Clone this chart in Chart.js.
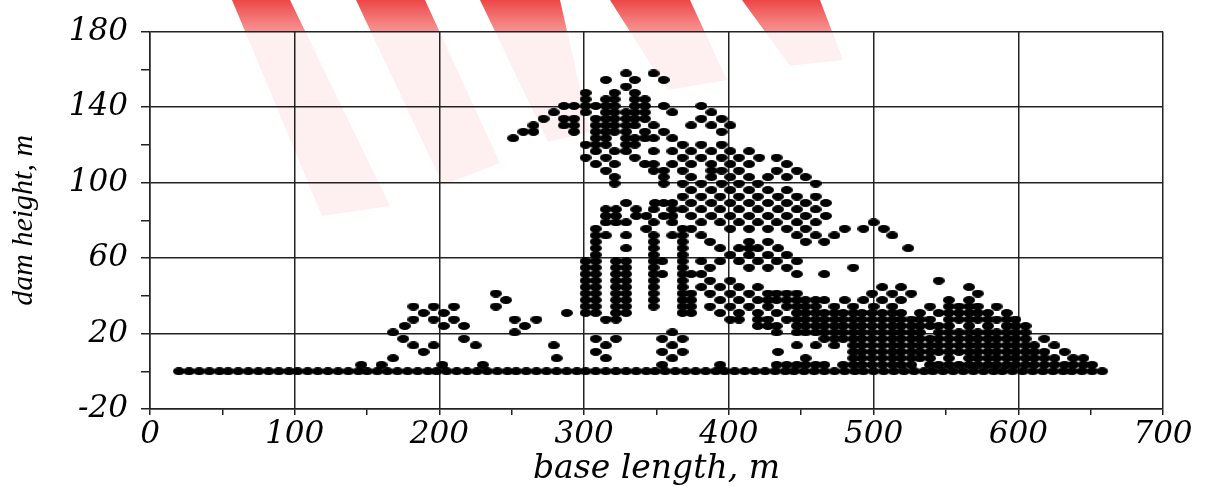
<!DOCTYPE html>
<html>
<head>
<meta charset="utf-8">
<script src="https://cdn.jsdelivr.net/npm/chart.js@4.4.0/dist/chart.umd.min.js"></script>
<style>
    body { margin: 0; background: #fff; }
    #wrap { width: 1206px; height: 486px; }
</style>
</head>
<body>
<div id="wrap"><canvas id="myChart" width="1206" height="486"></canvas></div>
<script>
// dam height levels (m), one row of base lengths per level
const heights = [0, 3.4, 6.9, 10.3, 13.7, 17.2, 20.6, 24, 27.4, 30.9, 34.3, 37.7, 41.2, 44.6, 48, 51.5,
    54.9, 58.3, 61.7, 65.2, 68.6, 72, 75.5, 78.9, 82.3, 85.8, 89.2, 92.6, 96, 99.5, 102.9, 106.3,
    109.8, 113.2, 116.6, 120.1, 123.5, 126.9, 130.3, 133.8, 137.2, 140.6, 144.1, 147.5, 150.9, 154.4, 157.8];

// base lengths (m) found at each height level above
const lengthsByRow = [
    [20, 27, 34, 41, 48, 54, 61, 68, 75, 82, 89, 96, 102, 109, 116, 123, 130, 137, 144, 150, 157, 164, 171, 178,
     185, 192, 198, 205, 212, 219, 226, 233, 240, 247, 253, 260, 267, 274, 281, 288, 295, 301, 308, 315, 322, 329,
     336, 343, 349, 356, 363, 370, 377, 384, 391, 397, 404, 411, 418, 425, 432, 439, 445, 452, 459, 466, 473, 480,
     487, 493, 500, 507, 514, 521, 528, 535, 541, 548, 555, 562, 569, 576, 583, 589, 596, 603, 610, 617, 624, 631,
     637, 644, 651, 658],
    [146, 160, 202, 230, 354, 394, 433, 440, 447, 453, 460, 466, 479, 486, 492, 499, 506, 513, 519, 526, 539, 545,
     552, 559, 566, 572, 579, 585, 592, 598, 605, 611, 618, 625, 632, 638, 645, 651],
    [168, 281, 315, 361, 453, 486, 492, 499, 506, 513, 519, 526, 532, 539, 552, 566, 572, 579, 585, 592, 598, 605,
     611, 618, 625, 638, 645],
    [189, 308, 354, 368, 434, 486, 492, 499, 506, 513, 519, 526, 532, 539, 545, 552, 559, 566, 572, 579, 585, 592,
     598, 605, 611, 618, 632],
    [182, 196, 225, 279, 315, 361, 447, 460, 473, 486, 492, 499, 506, 513, 519, 526, 532, 539, 545, 552, 559, 566,
     572, 579, 585, 592, 598, 605, 611, 625],
    [175, 217, 308, 322, 354, 368, 466, 473, 479, 486, 492, 499, 506, 513, 519, 526, 532, 539, 545, 552, 559, 566,
     572, 579, 585, 592, 598, 605, 618],
    [168, 252, 361, 433, 447, 453, 460, 466, 473, 479, 486, 492, 499, 506, 513, 519, 526, 532, 545, 552, 559, 566,
     572, 579, 585, 592, 598, 605],
    [176, 203, 217, 259, 420, 427, 433, 447, 453, 460, 466, 473, 479, 486, 492, 499, 506, 513, 519, 526, 532, 539,
     545, 552, 566, 579, 592, 598, 605],
    [182, 196, 210, 252, 267, 315, 322, 401, 407, 420, 427, 440, 447, 453, 460, 466, 473, 479, 486, 492, 499, 506,
     513, 519, 526, 532, 539, 552, 559, 566, 572, 579, 585, 592, 598],
    [189, 203, 288, 301, 308, 322, 329, 368, 374, 394, 407, 420, 433, 447, 453, 460, 466, 473, 479, 486, 492, 499,
     506, 513, 519, 532, 545, 552, 559, 566, 572, 579, 592],
    [182, 196, 210, 239, 301, 308, 322, 329, 348, 368, 374, 387, 401, 414, 427, 440, 447, 453, 460, 473, 486, 500,
     513, 539, 552, 559, 566, 572, 585],
    [246, 301, 308, 322, 329, 348, 368, 374, 394, 407, 420, 427, 433, 440, 447, 453, 460, 466, 480, 493, 506, 519,
     552, 566],
    [239, 301, 308, 322, 329, 348, 368, 374, 387, 401, 414, 427, 433, 440, 447, 499, 513, 526, 572],
    [301, 308, 322, 329, 348, 368, 381, 394, 407, 420, 506, 519, 566],
    [301, 308, 322, 329, 348, 368, 387, 401, 545],
    [301, 308, 322, 329, 348, 354, 368, 374, 381, 447, 466],
    [301, 308, 322, 329, 348, 368, 387, 414, 427, 440, 486],
    [301, 308, 322, 329, 348, 354, 368, 381, 394, 407, 420, 433, 447],
    [308, 348, 368, 401, 414, 427, 440],
    [308, 329, 348, 368, 394, 407, 414, 420, 434, 524],
    [308, 348, 368, 387, 414, 427, 453, 466],
    [308, 315, 329, 348, 361, 368, 381, 447, 460, 473, 513],
    [308, 343, 368, 374, 401, 414, 427, 440, 453, 480, 493, 507],
    [315, 322, 329, 348, 361, 381, 394, 407, 420, 433, 447, 460, 500],
    [315, 322, 336, 343, 355, 361, 374, 388, 401, 414, 427, 440, 453, 467],
    [315, 322, 336, 348, 361, 368, 381, 394, 407, 420, 434, 447, 460],
    [329, 349, 355, 361, 374, 388, 401, 414, 427, 440, 453, 467],
    [368, 381, 394, 407, 420, 434, 447, 460],
    [374, 388, 401, 414, 427, 440],
    [321, 355, 368, 381, 395, 407, 420, 460],
    [321, 355, 374, 388, 401, 414, 427, 440, 453],
    [315, 348, 355, 368, 388, 395, 407, 433, 447],
    [308, 321, 342, 348, 361, 374, 388, 401, 414, 440],
    [301, 315, 335, 368, 381, 395, 407, 421, 433],
    [308, 321, 329, 348, 361, 374, 388, 401, 414],
    [301, 308, 315, 329, 335, 368, 381, 395],
    [251, 308, 315, 329, 335, 342, 348, 361],
    [258, 265, 293, 308, 315, 321, 329, 342, 355, 395],
    [265, 286, 293, 308, 315, 321, 329, 335, 348, 374, 388, 401],
    [272, 286, 293, 308, 315, 321, 329, 335, 342, 381, 395],
    [279, 301, 315, 321, 329, 335, 342, 361, 388],
    [286, 293, 301, 308, 315, 321, 335, 342, 355, 381],
    [301, 315, 321, 335, 342],
    [301, 321, 335],
    [329],
    [315, 335, 355],
    [329, 348]
];

const xTicks = [0, 100, 200, 300, 400, 500, 600, 700];
const yTicks = [-20, 20, 60, 100, 140, 180];

// red watermark bands behind the plot (canvas px corners)
const bands = [
    [[232, 0], [290, 0], [390, 206], [322, 216]],
    [[356, 0], [425, 0], [500, 163], [443, 185]],
    [[480, 0], [560, 0], [590, 132], [548, 142]],
    [[610, 0], [690, 0], [727, 80], [667, 90]],
    [[742, 0], [820, 0], [843, 60], [790, 66]]
];

var points = [];
heights.forEach(function (h, r) {
    lengthsByRow[r].forEach(function (len) {
        points.push({x: len, y: h});
    });
});

// black oval marker
var dot = document.createElement('canvas');
dot.width = 12;
dot.height = 8;
var dc = dot.getContext('2d');
dc.fillStyle = '#000';
dc.beginPath();
dc.ellipse(6, 4, 6, 4, 0, 0, Math.PI * 2);
dc.fill();

var backdrop = {
    id: 'backdrop',
    beforeDraw: function (chart) {
        var ctx = chart.ctx, a = chart.chartArea;
        ctx.save();
        ctx.fillStyle = '#fff';
        ctx.fillRect(0, 0, chart.width, chart.height);
        var g = ctx.createLinearGradient(0, 0, 0, a.top);
        g.addColorStop(0, 'rgba(235,50,50,0.9)');
        g.addColorStop(1, 'rgba(245,110,110,0.75)');
        ctx.fillStyle = g;
        bands.forEach(function (b) {
            ctx.beginPath();
            ctx.moveTo(b[0][0], b[0][1]);
            for (var k = 1; k < b.length; k++) ctx.lineTo(b[k][0], b[k][1]);
            ctx.closePath();
            ctx.fill();
        });
        ctx.fillStyle = 'rgba(255,255,255,0.86)';
        ctx.fillRect(a.left, a.top, a.right - a.left, a.bottom - a.top);
        ctx.restore();
    }
};

var tickFont = {family: 'DejaVu Serif', style: 'italic', size: 31};
var lineCol = '#222';

new Chart('myChart', {
    type: 'scatter',
    data: {
        datasets: [{
            data: points,
            pointStyle: dot,
            pointRadius: 6,
            showLine: false
        }]
    },
    options: {
        responsive: false,
        animation: false,
        devicePixelRatio: 1,
        layout: {padding: {left: 0, right: 43, top: 24, bottom: 0}},
        plugins: {
            legend: {display: false},
            tooltip: {enabled: false}
        },
        scales: {
            x: {
                type: 'linear',
                min: 0,
                max: 700,
                ticks: {
                    stepSize: 50,
                    autoSkip: false,
                    maxRotation: 0,
                    color: '#000',
                    font: tickFont,
                    padding: 1,
                    callback: function (v) { return xTicks.includes(v) ? v : ''; }
                },
                grid: {
                    color: function (c) { return c.tick && xTicks.includes(c.tick.value) ? lineCol : 'rgba(0,0,0,0)'; },
                    tickColor: lineCol,
                    lineWidth: 1.5,
                    tickLength: 6
                },
                border: {color: lineCol, width: 1.5},
                title: {
                    display: true,
                    text: 'base length, m',
                    color: '#000',
                    font: {family: 'DejaVu Serif', style: 'italic', size: 33, lineHeight: 1},
                    padding: {top: 0, bottom: 0}
                },
                afterFit: function (s) { s.height = 77; }
            },
            y: {
                type: 'linear',
                min: -20,
                max: 180,
                ticks: {
                    stepSize: 20,
                    autoSkip: false,
                    color: '#000',
                    font: tickFont,
                    padding: 13,
                    callback: function (v) { return yTicks.includes(v) ? v : ''; }
                },
                grid: {
                    color: function (c) { return c.tick && yTicks.includes(c.tick.value) ? lineCol : 'rgba(0,0,0,0)'; },
                    tickColor: lineCol,
                    lineWidth: 1.5,
                    tickLength: 9
                },
                border: {color: lineCol, width: 1.5},
                title: {
                    display: true,
                    text: 'dam height, m',
                    color: '#000',
                    font: {family: 'Liberation Serif', style: 'italic', size: 30},
                    padding: {top: 6, bottom: 0}
                },
                afterFit: function (s) { s.width = 150; }
            }
        }
    },
    plugins: [backdrop]
});
</script>
</body>
</html>
